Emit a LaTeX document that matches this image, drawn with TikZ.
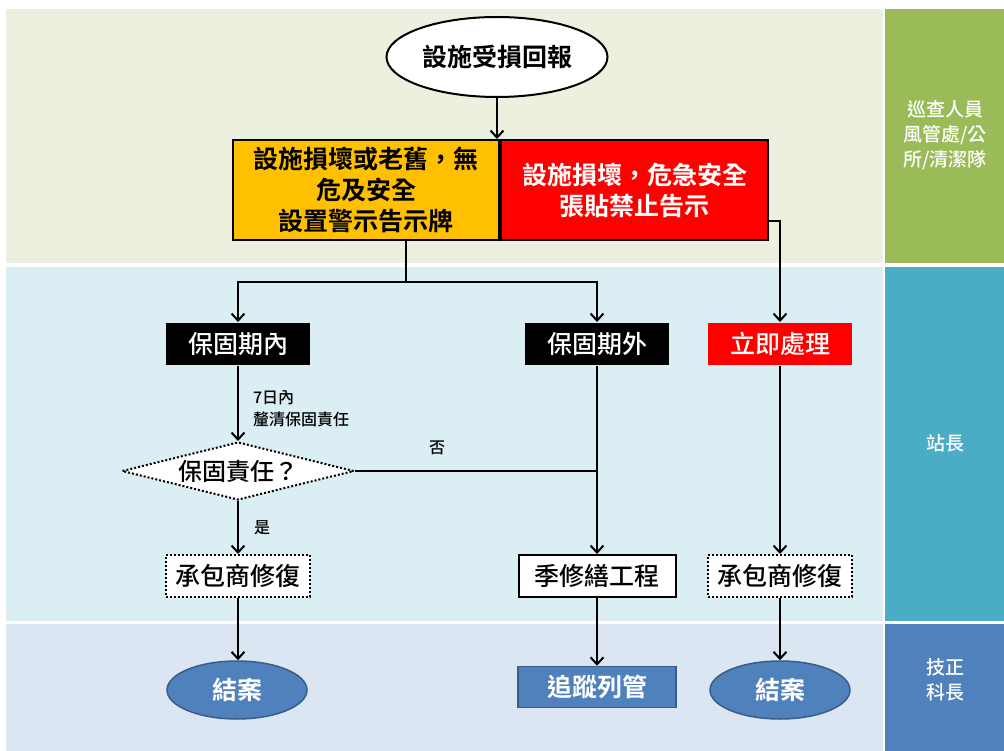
\documentclass[tikz,border=0pt]{standalone}
\usepackage{fontspec}
\setmainfont{Noto Sans CJK TC}[BoldFont={Noto Sans CJK TC Bold}]
\newfontfamily\medfont{Noto Sans CJK TC Medium}
\usetikzlibrary{positioning, arrows.meta, shapes.geometric}
\definecolor{laneA}{HTML}{EBF1DE}
\definecolor{laneB}{HTML}{DAEEF3}
\definecolor{laneC}{HTML}{DCE6F2}
\definecolor{roleA}{HTML}{9BBB59}
\definecolor{roleB}{HTML}{4BACC6}
\definecolor{roleC}{HTML}{4F81BD}
\definecolor{warnY}{HTML}{FFC000}
\definecolor{endB}{HTML}{4F81BD}
\definecolor{endE}{HTML}{385D8A}

\begin{document}
\begin{tikzpicture}[x=1pt, y=-1pt, line width=2pt, >={Straight Barb[length=7pt,width=13pt]},
  big/.style={font=\bfseries\fontsize{25}{31}\selectfont, align=center},
  mid/.style={font=\medfont\fontsize{25}{30}\selectfont, inner sep=0pt},
  tag/.style={mid, fill=black, text=white, minimum width=144pt, minimum height=42pt},
  fixbox/.style={mid, draw, fill=white, minimum width=144pt, minimum height=42pt, dash pattern=on 2pt off 2pt},
  ends/.style={big, ellipse, draw=endE, fill=endB, text=white, line width=1.5pt, minimum width=140pt, minimum height=58pt, inner sep=0pt},
  small/.style={font=\medfont\fontsize{16}{22}\selectfont, align=left, inner sep=0pt},
  role/.style={font=\medfont\fontsize{19}{25}\selectfont, text=white, align=center}]
  % lanes
  \fill[laneA] (6,9) rectangle (883,263);
  \fill[roleA] (885,9) rectangle (1004,263);
  \fill[laneB] (6,267) rectangle (883,621);
  \fill[roleB] (885,267) rectangle (1004,621);
  \fill[laneC] (6,624) rectangle (883,751);
  \fill[roleC] (885,624) rectangle (1004,751);
  \useasboundingbox (0,0) rectangle (1004,751);

  \node[role] (roleTop) at (945,135) {巡查人員\\風管處/公\\所/清潔隊};
  \node[role] (roleMid) at (945,443) {站長};
  \node[role] (roleBot) at (945,680) {技正\\科長};

  % top
  \node[big, ellipse, draw, fill=white, minimum width=221pt, minimum height=80pt, inner sep=0pt] (start) at (497,57) {設施受損回報};
  \node[big, draw, fill=warnY, minimum width=266pt, minimum height=100pt, inner sep=0pt] (warn) at (366,190) {設施損壞或老舊，無\\危及安全\\設置警示告示牌};
  \node[big, draw, fill=red, text=white, minimum width=267pt, minimum height=100pt, inner sep=0pt, anchor=west] (danger) at (warn.east) {設施損壞，危急安全\\張貼禁止告示};

  % middle
  \node[tag] (inwar) at (238,344) {保固期內};
  \node[tag] (outwar) at (597,344) {保固期外};
  \node[tag, fill=red] (urgent) at (780,344) {立即處理};
  \node[mid, diamond, draw, fill=white, font=\medfont\fontsize{24}{28}\selectfont, aspect=4, minimum width=232pt, minimum height=58pt, dash pattern=on 2pt off 2pt] (dec) at (238,471) {保固責任？};
  \node[fixbox] (fixA) at (238,576) {承包商修復};
  \node[mid, draw, fill=white, minimum width=157pt, minimum height=42pt] (season) at (597,576) {季修繕工程};
  \node[fixbox] (fixB) at (780,576) {承包商修復};

  % bottom
  \node[ends] (closeA) at (237,690) {結案};
  \node[big, draw=endE, fill=endB, text=white, line width=1.5pt, minimum width=158pt, minimum height=41pt, inner sep=0pt] (track) at (597,687) {追蹤列管};
  \node[ends] (closeB) at (780,690) {結案};

  \coordinate (split) at (406,282);

  \draw[->] (start.south) -- (start.south |- warn.north);
  \draw (warn.south -| split) -- (split);
  \draw[->] (split) -| (inwar);
  \draw[->] (split) -| (outwar);
  \draw[->] ([yshift=-31pt]danger.east) -| (urgent);
  \draw[->] (inwar) -- (dec);
  \node[small, anchor=west] (note) at (252,409) {7日內\\釐清保固責任};
  \draw (dec.east) -- (dec.east -| outwar.south);
  \node[small] (no) at (437,448) {否};
  \draw[->] (outwar) -- (season);
  \draw[->] (dec) -- (fixA);
  \node[small] (yes) at (262,528) {是};
  \draw[->] (urgent) -- (fixB);
  \draw[->] (fixA) -- (fixA |- closeA.north);
  \draw[->] (season) -- (track);
  \draw[->] (fixB) -- (closeB);
\end{tikzpicture}
\end{document}
